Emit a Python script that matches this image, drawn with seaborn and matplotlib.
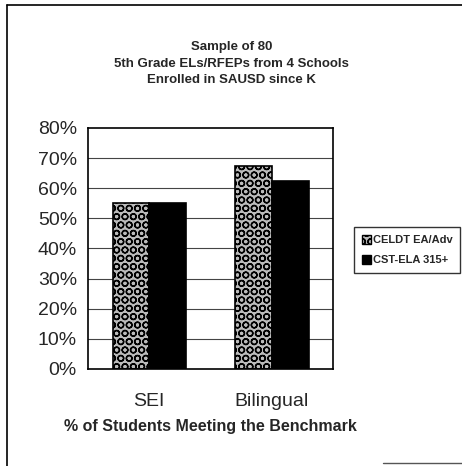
import pandas as pd
import seaborn as sns
import matplotlib.pyplot as plt
from matplotlib.lines import Line2D
from matplotlib.patches import Patch

programs = ["SEI", "Bilingual"]
measures = ["CELDT EA/Adv", "CST-ELA 315+"]
celdt_pct = [55, 67.5]
cst_pct = [55, 62.5]
y_ticks = [0, 10, 20, 30, 40, 50, 60, 70, 80]

df = pd.DataFrame({
    "program": programs * 2,
    "measure": [measures[0]] * 2 + [measures[1]] * 2,
    "pct": celdt_pct + cst_pct,
})

sns.set_style("white")
plt.rcParams["font.family"] = ["Liberation Sans", "DejaVu Sans"]
plt.rcParams["hatch.linewidth"] = 1.0

fig = plt.figure(figsize=(4.62, 4.66), dpi=100)
ax = fig.add_axes([0.1905, 0.2082, 0.5303, 0.5172])

# horizontal grid lines behind bars
for v in y_ticks[1:-1]:
    ax.axhline(v, color="#444444", lw=0.8, zorder=0)

sns.barplot(data=df, x="program", y="pct", hue="measure", ax=ax,
            palette=["white", "black"], width=0.6, edgecolor="black",
            linewidth=1.2, legend=False, zorder=2)

# checkered ball pattern on CELDT bars
for p in ax.patches[:len(programs)]:
    p.set_hatch("OO")
    p.set_facecolor("#bbbbbb")

ax.set_ylim(0, 80)
ax.set_xlim(-0.5, 1.5)
ax.set_yticks(y_ticks)
ax.set_yticklabels([f"{v}%" for v in y_ticks], fontsize=14)
ax.set_xticks([-0.5, 0.5, 1.5])
ax.set_xticklabels([])
ax.set_xticks([0, 1], minor=True)
ax.set_xticklabels(programs, minor=True, fontsize=14)
ax.tick_params(axis="x", which="minor", length=0, pad=17)
ax.tick_params(axis="both", which="major", length=5, width=1, color="black", direction="out")
ax.tick_params(axis="y", pad=3)
ax.set_xlabel("% of Students Meeting the Benchmark", fontsize=11.5, fontweight="bold", labelpad=7)
ax.set_ylabel("")
for s in ax.spines.values():
    s.set_color("black")
    s.set_linewidth(1.2)

fig.text(0.502, 0.863, "Sample of 80\n5th Grade ELs/RFEPs from 4 Schools\nEnrolled in SAUSD since K",
         ha="center", va="center", fontsize=9.5, fontweight="bold", linespacing=1.5)

handles = [Patch(facecolor="#bbbbbb", edgecolor="black", hatch="OO"),
           Patch(facecolor="black", edgecolor="black")]
leg = fig.legend(handles, measures, loc="upper left", bbox_to_anchor=(0.766, 0.512),
                 frameon=True, fancybox=False, edgecolor="black", fontsize=8,
                 handlelength=0.8, handleheight=0.8, handletextpad=0.2,
                 borderpad=0.7, labelspacing=0.9, borderaxespad=0)
for t in leg.get_texts():
    t.set_fontweight("bold")
leg.get_frame().set_linewidth(1.0)

# outer chart frame
fig.add_artist(Line2D([0.015, 0.015], [0.0, 0.99], color="black", lw=1.2))
fig.add_artist(Line2D([0.015, 1.0], [0.99, 0.99], color="black", lw=1.2))
fig.add_artist(Line2D([0.83, 1.0], [0.007, 0.007], color="#555555", lw=1.0))

fig.savefig("out.png", dpi=100)
